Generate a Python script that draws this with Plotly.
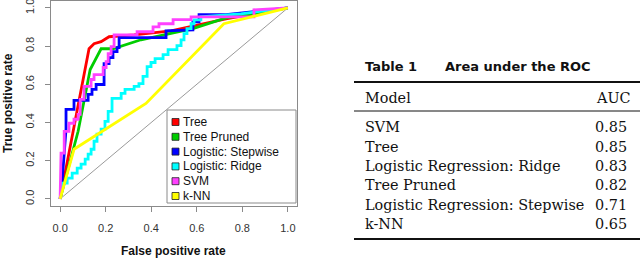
import plotly.graph_objects as go

# ---------------- data ----------------
legend_names = ["Tree", "Tree Pruned", "Logistic: Stepwise", "Logistic: Ridge", "SVM", "k-NN"]
line_colors = ["#FF0000", "#00CD00", "#0000FF", "#00FFFF", "#FF40FF", "#FFFF00"]

tree_fpr = [0, 0.057, 0.11, 0.118, 0.127, 0.149, 0.18, 0.215, 0.325, 0.487, 0.728, 1]
tree_tpr = [0, 0.354, 0.693, 0.745, 0.786, 0.8125, 0.823, 0.849, 0.859, 0.88, 0.943, 1]

pruned_fpr = [0, 0.079, 0.132, 0.18, 0.232, 0.355, 0.583, 0.728, 1]
pruned_tpr = [0, 0.354, 0.677, 0.786, 0.786, 0.833, 0.891, 0.948, 1]

stepwise_fpr = [0, 0.009, 0.026, 0.026, 0.061, 0.061, 0.123, 0.123, 0.140, 0.140, 0.158, 0.158,
                0.193, 0.193, 0.215, 0.215, 0.232, 0.232, 0.25, 0.25, 0.259, 0.259, 0.465, 0.465,
                0.583, 0.583, 0.61, 0.61, 0.728, 1]
stepwise_tpr = [0, 0.094, 0.365, 0.469, 0.469, 0.516, 0.516, 0.547, 0.547, 0.573, 0.573, 0.599,
                0.599, 0.708, 0.708, 0.740, 0.740, 0.771, 0.771, 0.792, 0.792, 0.844, 0.844, 0.880,
                0.885, 0.927, 0.927, 0.964, 0.964, 1]

ridge_fpr = [0, 0.009, 0.031, 0.031, 0.053, 0.053, 0.075, 0.075, 0.092, 0.092, 0.110, 0.110,
             0.123, 0.123, 0.136, 0.136, 0.149, 0.149, 0.162, 0.162, 0.180, 0.180, 0.197, 0.197,
             0.211, 0.211, 0.228, 0.228, 0.268, 0.268, 0.285, 0.285, 0.325, 0.325, 0.346, 0.346,
             0.364, 0.364, 0.382, 0.382, 0.399, 0.399, 0.417, 0.417, 0.452, 0.452, 0.474, 0.474,
             0.513, 0.513, 0.531, 0.531, 0.544, 0.544, 0.557, 0.557, 0.575, 0.575, 0.588, 0.588,
             0.618, 0.618, 0.794, 1]
ridge_tpr = [0, 0.083, 0.083, 0.109, 0.109, 0.135, 0.135, 0.161, 0.161, 0.182, 0.182, 0.208,
             0.208, 0.234, 0.234, 0.260, 0.260, 0.302, 0.302, 0.339, 0.339, 0.365, 0.365, 0.406,
             0.406, 0.458, 0.458, 0.526, 0.526, 0.552, 0.552, 0.573, 0.573, 0.589, 0.589, 0.604,
             0.604, 0.641, 0.641, 0.693, 0.693, 0.714, 0.714, 0.734, 0.734, 0.755, 0.755, 0.781,
             0.781, 0.802, 0.802, 0.833, 0.833, 0.865, 0.865, 0.891, 0.891, 0.917, 0.917, 0.9375,
             0.9375, 0.953, 0.969, 1]

svm_fpr = [0, 0.004, 0.018, 0.018, 0.039, 0.039, 0.061, 0.061, 0.079, 0.079, 0.088, 0.088,
           0.105, 0.105, 0.136, 0.136, 0.149, 0.149, 0.189, 0.189, 0.202, 0.202, 0.211, 0.211,
           0.224, 0.224, 0.237, 0.237, 0.338, 0.338, 0.408, 0.408, 0.434, 0.434, 0.496, 0.496,
           0.575, 0.575, 0.851, 0.851, 1]
svm_tpr = [0, 0.24, 0.24, 0.354, 0.354, 0.396, 0.396, 0.417, 0.417, 0.443, 0.443, 0.521,
           0.521, 0.589, 0.589, 0.625, 0.625, 0.651, 0.651, 0.688, 0.688, 0.719, 0.719, 0.760,
           0.760, 0.797, 0.797, 0.859, 0.859, 0.875, 0.875, 0.901, 0.901, 0.917, 0.917, 0.938,
           0.938, 0.953, 0.953, 0.99, 1]

knn_fpr = [0, 0.061, 0.377, 0.719, 1]
knn_tpr = [0, 0.26, 0.5, 0.917, 1]

diag_x = [0, 1]
diag_y = [0, 1]

x_ticks = [0.0, 0.2, 0.4, 0.6, 0.8, 1.0]
y_ticks = [0.0, 0.2, 0.4, 0.6, 0.8, 1.0]

table_models = ["SVM", "Tree", "Logistic Regression: Ridge", "Tree Pruned",
                "Logistic Regression: Stepwise", "k-NN"]
table_auc = ["0.85", "0.85", "0.83", "0.82", "0.71", "0.65"]

# ---------------- figure ----------------
W, H = 640, 258
L, R, T, B = 51, 297, 1, 206


def px(x):
    return (x - L) / (R - L)


def py(y):
    return (B - y) / (B - T)


curves = [(tree_fpr, tree_tpr), (pruned_fpr, pruned_tpr), (stepwise_fpr, stepwise_tpr),
          (ridge_fpr, ridge_tpr), (svm_fpr, svm_tpr), (knn_fpr, knn_tpr)]

fig = go.Figure()
fig.add_trace(go.Scatter(x=diag_x, y=diag_y, mode="lines",
                         line=dict(color="#9a9a9a", width=1), showlegend=False, hoverinfo="skip"))
for (fx, ty), name, col in zip(curves, legend_names, line_colors):
    fig.add_trace(go.Scatter(x=fx, y=ty, mode="lines", name=name,
                             line=dict(color=col, width=2.8), showlegend=False))

shapes = []
annotations = []

# legend box (manual, R style)
shapes.append(dict(type="rect", xref="paper", yref="paper",
                   x0=px(167), x1=px(296), y0=py(203), y1=py(110),
                   line=dict(color="#8a8a8a", width=1), fillcolor="white", layer="above"))
for i, (name, col) in enumerate(zip(legend_names, line_colors)):
    yc = 122 + i * 14.8
    shapes.append(dict(type="rect", xref="paper", yref="paper",
                       x0=px(172), x1=px(179), y0=py(yc + 3.5), y1=py(yc - 3.5),
                       line=dict(color="#222", width=0.8), fillcolor=col, layer="above"))
    annotations.append(dict(text=name, xref="paper", yref="paper", x=px(181), y=py(yc),
                            xanchor="left", yanchor="middle", showarrow=False,
                            font=dict(family="Liberation Sans, Arial", size=12, color="#111")))

# axis titles
annotations.append(dict(text="<b>False positive rate</b>", xref="paper", yref="paper",
                        x=px(173), y=py(251), xanchor="center", yanchor="middle", showarrow=False,
                        font=dict(family="Liberation Sans, Arial", size=12, color="#111")))
annotations.append(dict(text="<b>True positive rate</b>", xref="paper", yref="paper",
                        x=px(8), y=py(103), xanchor="center", yanchor="middle", showarrow=False,
                        textangle=-90,
                        font=dict(family="Liberation Sans, Arial", size=12, color="#111")))

# table
serif = "DejaVu Serif, Liberation Serif, serif"
annotations.append(dict(text="<b>Table 1</b>", xref="paper", yref="paper", x=px(363), y=py(67),
                        xanchor="left", yanchor="middle", showarrow=False,
                        font=dict(family="DejaVu Sans", size=13, color="#111")))
annotations.append(dict(text="<b>Area under the ROC</b>", xref="paper", yref="paper", x=px(443),
                        y=py(67), xanchor="left", yanchor="middle", showarrow=False,
                        font=dict(family="DejaVu Sans", size=13, color="#111")))
shapes.append(dict(type="line", xref="paper", yref="paper", x0=px(354), x1=px(640),
                   y0=py(82), y1=py(82), line=dict(color="#111", width=1.8)))
annotations.append(dict(text="Model", xref="paper", yref="paper", x=px(363), y=py(98),
                        xanchor="left", yanchor="middle", showarrow=False,
                        font=dict(family=serif, size=14.4, color="#111")))
annotations.append(dict(text="AUC", xref="paper", yref="paper", x=px(633), y=py(98),
                        xanchor="right", yanchor="middle", showarrow=False,
                        font=dict(family=serif, size=14.4, color="#111")))
shapes.append(dict(type="line", xref="paper", yref="paper", x0=px(354), x1=px(640),
                   y0=py(111), y1=py(111), line=dict(color="#111", width=1)))
for i, (m, a) in enumerate(zip(table_models, table_auc)):
    yc = 127.3 + i * 19.35
    annotations.append(dict(text=m, xref="paper", yref="paper", x=px(363), y=py(yc),
                            xanchor="left", yanchor="middle", showarrow=False,
                            font=dict(family=serif, size=14.4, color="#111")))
    annotations.append(dict(text=a, xref="paper", yref="paper", x=px(629), y=py(yc),
                            xanchor="right", yanchor="middle", showarrow=False,
                            font=dict(family=serif, size=14.4, color="#111")))
shapes.append(dict(type="line", xref="paper", yref="paper", x0=px(354), x1=px(640),
                   y0=py(239), y1=py(239), line=dict(color="#111", width=1.8)))

axis_common = dict(showgrid=False, zeroline=False, showline=True, linecolor="#8a8a8a",
                   linewidth=1, mirror=True, ticks="outside", ticklen=5, tickcolor="#8a8a8a",
                   automargin=False, ticklabeloverflow="allow",
                   tickfont=dict(family="Liberation Sans, Arial", size=11, color="#333"))

fig.update_layout(
    width=W, height=H,
    margin=dict(l=L, r=W - R, t=T, b=H - B, pad=0, autoexpand=False),
    paper_bgcolor="white", plot_bgcolor="white",
    showlegend=False,
    xaxis=dict(range=[-0.04, 1.04], tickvals=x_ticks, ticktext=[f"{v:.1f}" for v in x_ticks],
               ticklabelstandoff=7, **axis_common),
    yaxis=dict(range=[-0.037, 1.036], tickvals=y_ticks, ticktext=[f"{v:.1f}" for v in y_ticks],
               tickangle=-90, ticklabelstandoff=7, **axis_common),
    shapes=shapes, annotations=annotations,
)

fig.write_html("out.html", config={"displayModeBar": False},
               post_script="document.body.style.margin='0';document.body.style.overflow='hidden';")
